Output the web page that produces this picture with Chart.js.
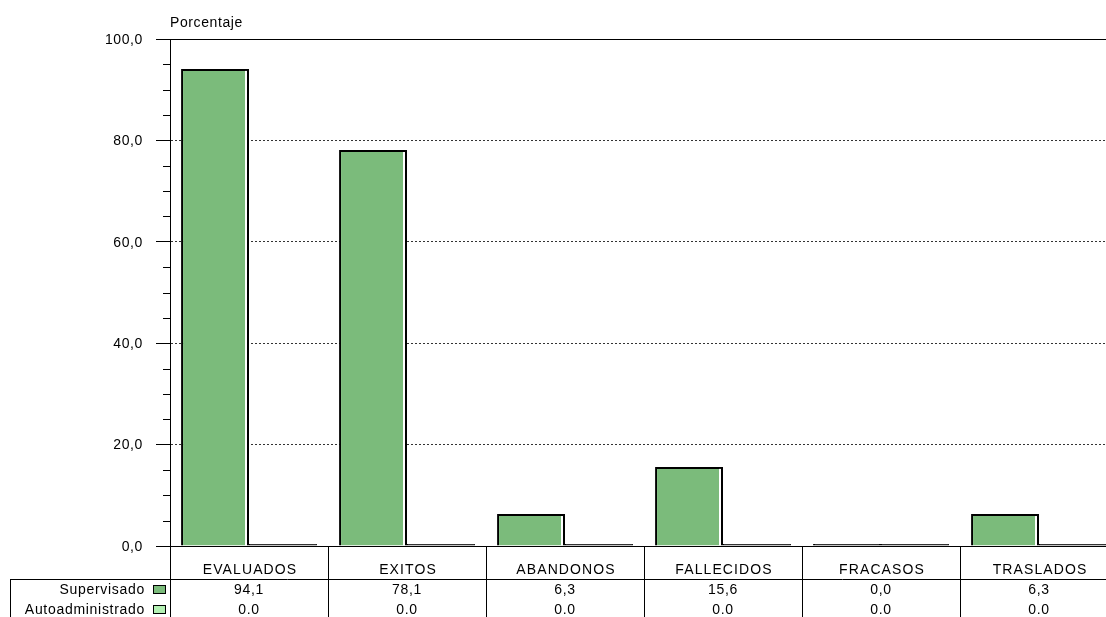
<!DOCTYPE html>
<html>
<head>
<meta charset="utf-8">
<script src="https://cdn.jsdelivr.net/npm/chart.js@4.4.1/dist/chart.umd.min.js"></script>
<style>
  html, body { margin: 0; padding: 0; background: #fff; overflow: hidden; }
  canvas { display: block; }
</style>
</head>
<body>
<canvas id="chart" width="1120" height="617"></canvas>
<script>
const categories = ['EVALUADOS', 'EXITOS', 'ABANDONOS', 'FALLECIDOS', 'FRACASOS', 'TRASLADOS'];
const seriesNames = ['Supervisado', 'Autoadministrado'];
const supervisado = [94.1, 78.1, 6.3, 15.6, 0, 6.3];
const autoadministrado = [0, 0, 0, 0, 0, 0];
const yTicks = [0, 20, 40, 60, 80, 100];
const minorStep = 5;

const FONT = '"Liberation Sans", Arial, sans-serif';
const colors = ['#7bbb7b', '#b3f0b3'];

function fmtComma(v) { return v.toFixed(1).replace('.', ','); }
function fmtDot(v) { return v.toFixed(1); }
const rowFormat = [fmtComma, fmtDot];

// zero values are drawn by the original as a flat black bar
function barFill(color) {
  return c => (c.raw === 0 ? '#111' : color);
}

const tablePlugin = {
  id: 'table',
  afterDatasetsDraw(chart) {
    // white highlight inside the right edge of the green bars
    const ctx = chart.ctx;
    const meta = chart.getDatasetMeta(0);
    ctx.save();
    ctx.fillStyle = '#ffffff';
    meta.data.forEach((bar, i) => {
      if (!supervisado[i]) return;
      const right = bar.x + bar.width / 2;
      ctx.fillRect(right - 4, bar.y + 2, 2, bar.base - bar.y - 2);
    });
    ctx.restore();
  },
  afterDraw(chart) {
    const ctx = chart.ctx;
    const area = chart.chartArea;
    const x = chart.scales.x;
    const y = chart.scales.y;
    const W = chart.width;
    const H = chart.height;
    const yMax = yTicks[yTicks.length - 1];
    ctx.save();
    ctx.fillStyle = '#000';
    ctx.font = '14px ' + FONT;
    ctx.letterSpacing = '0.6px';
    ctx.textBaseline = 'middle';

    // title
    ctx.textAlign = 'left';
    ctx.fillText('Porcentaje', area.left, 23);

    // y labels
    ctx.textAlign = 'right';
    yTicks.forEach(v => {
      ctx.fillText(fmtComma(v), 143, y.getPixelForValue(v) + 1);
    });

    ctx.strokeStyle = '#000';
    ctx.lineWidth = 1;

    // top frame line
    const yTop = Math.round(y.getPixelForValue(yMax)) + 0.5;
    ctx.beginPath();
    ctx.moveTo(area.left, yTop);
    ctx.lineTo(W, yTop);
    ctx.stroke();

    // minor ticks
    for (let v = minorStep; v < yMax; v += minorStep) {
      if (yTicks.includes(v)) continue;
      const py = Math.round(y.getPixelForValue(v)) + 0.5;
      ctx.beginPath();
      ctx.moveTo(area.left - 7, py);
      ctx.lineTo(area.left, py);
      ctx.stroke();
    }

    // baseline
    const yBase = Math.round(y.getPixelForValue(0)) + 0.5;
    ctx.beginPath();
    ctx.moveTo(area.left, yBase);
    ctx.lineTo(W, yBase);
    ctx.stroke();

    // table grid
    const colW = x.getPixelForValue(1) - x.getPixelForValue(0);
    const rowLine = 579.5;
    ctx.beginPath();
    ctx.moveTo(10, rowLine);
    ctx.lineTo(W, rowLine);
    ctx.moveTo(10.5, rowLine);
    ctx.lineTo(10.5, H);
    for (let i = 0; i <= categories.length; i++) {
      const px = Math.round(x.getPixelForValue(i) - colW / 2) + 0.5;
      ctx.moveTo(px, yBase);
      ctx.lineTo(px, H);
    }
    ctx.stroke();

    // category labels
    ctx.letterSpacing = '1.1px';
    ctx.textAlign = 'center';
    categories.forEach((c, i) => {
      ctx.fillText(c, x.getPixelForValue(i) + 1, 570);
    });

    // rows
    const rows = [supervisado, autoadministrado];
    const rowY = [590, 610];
    ctx.letterSpacing = '0.7px';
    rows.forEach((vals, r) => {
      ctx.textAlign = 'right';
      ctx.fillStyle = '#000';
      ctx.fillText(seriesNames[r], 145, rowY[r]);
      ctx.fillStyle = colors[r];
      ctx.fillRect(153, rowY[r] - 4, 12, 8);
      ctx.strokeRect(153.5, rowY[r] - 4.5, 12, 8);
      ctx.fillStyle = '#000';
      ctx.textAlign = 'center';
      vals.forEach((v, i) => {
        ctx.fillText(rowFormat[r](v), x.getPixelForValue(i), rowY[r]);
      });
    });
    ctx.restore();
  }
};

new Chart(document.getElementById('chart'), {
  type: 'bar',
  data: {
    labels: categories,
    datasets: [
      {
        label: seriesNames[0],
        data: supervisado,
        backgroundColor: barFill(colors[0]),
        borderColor: '#000',
        borderWidth: { top: 2, left: 2, right: 2, bottom: 0 },
        borderSkipped: false,
        minBarLength: 2,
        categoryPercentage: 0.86,
        barPercentage: 1
      },
      {
        label: seriesNames[1],
        data: autoadministrado,
        backgroundColor: barFill(colors[1]),
        borderColor: '#000',
        borderWidth: 1,
        minBarLength: 2,
        categoryPercentage: 0.86,
        barPercentage: 1
      }
    ]
  },
  options: {
    responsive: false,
    animation: false,
    layout: { padding: { top: 39, bottom: 71, left: 0, right: 2 } },
    plugins: { legend: { display: false }, tooltip: { enabled: false } },
    scales: {
      x: { display: false },
      y: {
        min: 0,
        max: yTicks[yTicks.length - 1],
        afterFit(scale) { scale.width = 170; },
        ticks: { stepSize: 20, display: false },
        grid: {
          color: c => (c.tick && c.tick.value > 0 && c.tick.value < 100) ? '#333' : 'rgba(0,0,0,0)',
          tickColor: '#000',
          tickLength: 14,
          lineWidth: 1
        },
        border: { display: true, color: '#000', width: 1, dash: [2, 2] }
      }
    }
  },
  plugins: [tablePlugin]
});
</script>
</body>
</html>
